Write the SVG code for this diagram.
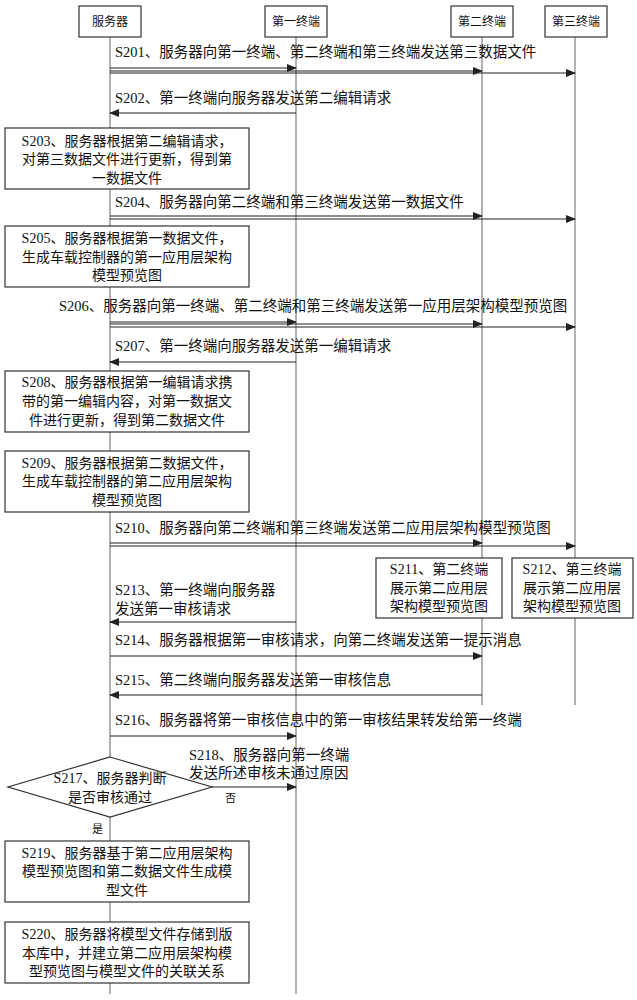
<svg xmlns="http://www.w3.org/2000/svg" width="637" height="1000" viewBox="0 0 637 1000">
<style>
text{font-family:"Liberation Serif","Noto Sans CJK SC",serif;fill:#111}
.t{font-size:14.5px}
.b{font-size:14px;text-anchor:middle}
.h{font-size:12px;text-anchor:middle}
.life{stroke:#888;stroke-width:1.3;fill:none}
.box{fill:#fff;stroke:#333;stroke-width:1.2}
.ar{stroke:#222;stroke-width:1.2;fill:none;marker-end:url(#a)}
</style>
<defs><marker id="a" markerWidth="10" markerHeight="8" refX="9" refY="4" orient="auto" markerUnits="userSpaceOnUse"><path d="M0,0 L10,4 L0,8 z" fill="#222"/></marker></defs>
<g id="lifelines">
<line class="life" x1="110" y1="37" x2="110" y2="994"/>
<line class="life" x1="296" y1="37" x2="296" y2="994"/>
<line class="life" x1="482" y1="37" x2="482" y2="705"/>
<line class="life" x1="575" y1="37" x2="575" y2="705"/>
</g>
<g id="h1"><rect class="box" x="79" y="6" width="62" height="31"/><text class="h" x="110" y="26">服务器</text></g>
<g id="h2"><rect class="box" x="265" y="6" width="62" height="31"/><text class="h" x="296" y="26">第一终端</text></g>
<g id="h3"><rect class="box" x="451" y="6" width="62" height="31"/><text class="h" x="482" y="26">第二终端</text></g>
<g id="h4"><rect class="box" x="545" y="6" width="62" height="31"/><text class="h" x="576" y="26">第三终端</text></g>
<g id="connectors">
<line class="ar" x1="110" y1="68" x2="296" y2="68"/>
<line class="ar" x1="110" y1="71" x2="482" y2="71"/>
<line class="ar" x1="110" y1="73" x2="575" y2="73"/>
<line class="ar" x1="296" y1="113" x2="110" y2="113"/>
<line class="ar" x1="110" y1="216" x2="482" y2="216"/>
<line class="ar" x1="110" y1="219" x2="575" y2="219"/>
<line class="ar" x1="110" y1="322" x2="296" y2="322"/>
<line class="ar" x1="110" y1="324" x2="482" y2="324"/>
<line class="ar" x1="110" y1="327" x2="575" y2="327"/>
<line class="ar" x1="296" y1="362" x2="110" y2="362"/>
<line class="ar" x1="110" y1="543" x2="482" y2="543"/>
<line class="ar" x1="110" y1="546" x2="575" y2="546"/>
<line class="ar" x1="296" y1="622" x2="110" y2="622"/>
<line class="ar" x1="110" y1="656" x2="482" y2="656"/>
<line class="ar" x1="482" y1="695" x2="110" y2="695"/>
<line class="ar" x1="110" y1="736" x2="296" y2="736"/>
<line class="ar" x1="212" y1="787" x2="296" y2="787"/>
</g>
<g id="labels">
<text class="t" x="115" y="57">S201、服务器向第一终端、第二终端和第三终端发送第三数据文件</text>
<text class="t" x="115" y="103">S202、第一终端向服务器发送第二编辑请求</text>
<text class="t" x="115" y="207">S204、服务器向第二终端和第三终端发送第一数据文件</text>
<text class="t" x="59" y="311">S206、服务器向第一终端、第二终端和第三终端发送第一应用层架构模型预览图</text>
<text class="t" x="115" y="351">S207、第一终端向服务器发送第一编辑请求</text>
<text class="t" x="115" y="533">S210、服务器向第二终端和第三终端发送第二应用层架构模型预览图</text>
<text class="t" x="115" y="595">S213、第一终端向服务器</text>
<text class="t" x="115" y="614">发送第一审核请求</text>
<text class="t" x="115" y="645">S214、服务器根据第一审核请求，向第二终端发送第一提示消息</text>
<text class="t" x="115" y="685">S215、第二终端向服务器发送第一审核信息</text>
<text class="t" x="115" y="725">S216、服务器将第一审核信息中的第一审核结果转发给第一终端</text>
<text class="t" x="189" y="760">S218、服务器向第一终端</text>
<text class="t" x="189" y="778">发送所述审核未通过原因</text>
<text x="225" y="802" style="font-size:11px">否</text>
<text x="92" y="833" style="font-size:11px">是</text>
</g>
<g id="s203"><rect class="box" x="5" y="128" width="244" height="61"/><text class="b" x="127" y="146">S203、服务器根据第二编辑请求，</text><text class="b" x="127" y="164">对第三数据文件进行更新，得到第</text><text class="b" x="127" y="183">一数据文件</text></g>
<g id="s205"><rect class="box" x="5" y="226" width="244" height="61"/><text class="b" x="127" y="243">S205、服务器根据第一数据文件，</text><text class="b" x="127" y="262">生成车载控制器的第一应用层架构</text><text class="b" x="127" y="280">模型预览图</text></g>
<g id="s208"><rect class="box" x="5" y="371" width="244" height="61"/><text class="b" x="127" y="387">S208、服务器根据第一编辑请求携</text><text class="b" x="127" y="406">带的第一编辑内容，对第一数据文</text><text class="b" x="127" y="425">件进行更新，得到第二数据文件</text></g>
<g id="s209"><rect class="box" x="5" y="451" width="244" height="61"/><text class="b" x="127" y="468">S209、服务器根据第二数据文件，</text><text class="b" x="127" y="486">生成车载控制器的第二应用层架构</text><text class="b" x="127" y="505">模型预览图</text></g>
<g id="s211"><rect class="box" x="376" y="558" width="126" height="60"/><text class="b" x="439" y="574">S211、第二终端</text><text class="b" x="439" y="593">展示第二应用层</text><text class="b" x="439" y="611">架构模型预览图</text></g>
<g id="s212"><rect class="box" x="512" y="558" width="121" height="60"/><text class="b" x="572" y="574">S212、第三终端</text><text class="b" x="572" y="593">展示第二应用层</text><text class="b" x="572" y="611">架构模型预览图</text></g>
<g id="s217"><polygon class="box" points="110,757 212,787 110,817 8,787"/><text class="b" x="110" y="783">S217、服务器判断</text><text class="b" x="110" y="802">是否审核通过</text></g>
<g id="s219"><rect class="box" x="5" y="841" width="244" height="61"/><text class="b" x="127" y="858">S219、服务器基于第二应用层架构</text><text class="b" x="127" y="876">模型预览图和第二数据文件生成模</text><text class="b" x="127" y="895">型文件</text></g>
<g id="s220"><rect class="box" x="5" y="922" width="244" height="61"/><text class="b" x="127" y="939">S220、服务器将模型文件存储到版</text><text class="b" x="127" y="958">本库中，并建立第二应用层架构模</text><text class="b" x="127" y="976">型预览图与模型文件的关联关系</text></g>
</svg>
